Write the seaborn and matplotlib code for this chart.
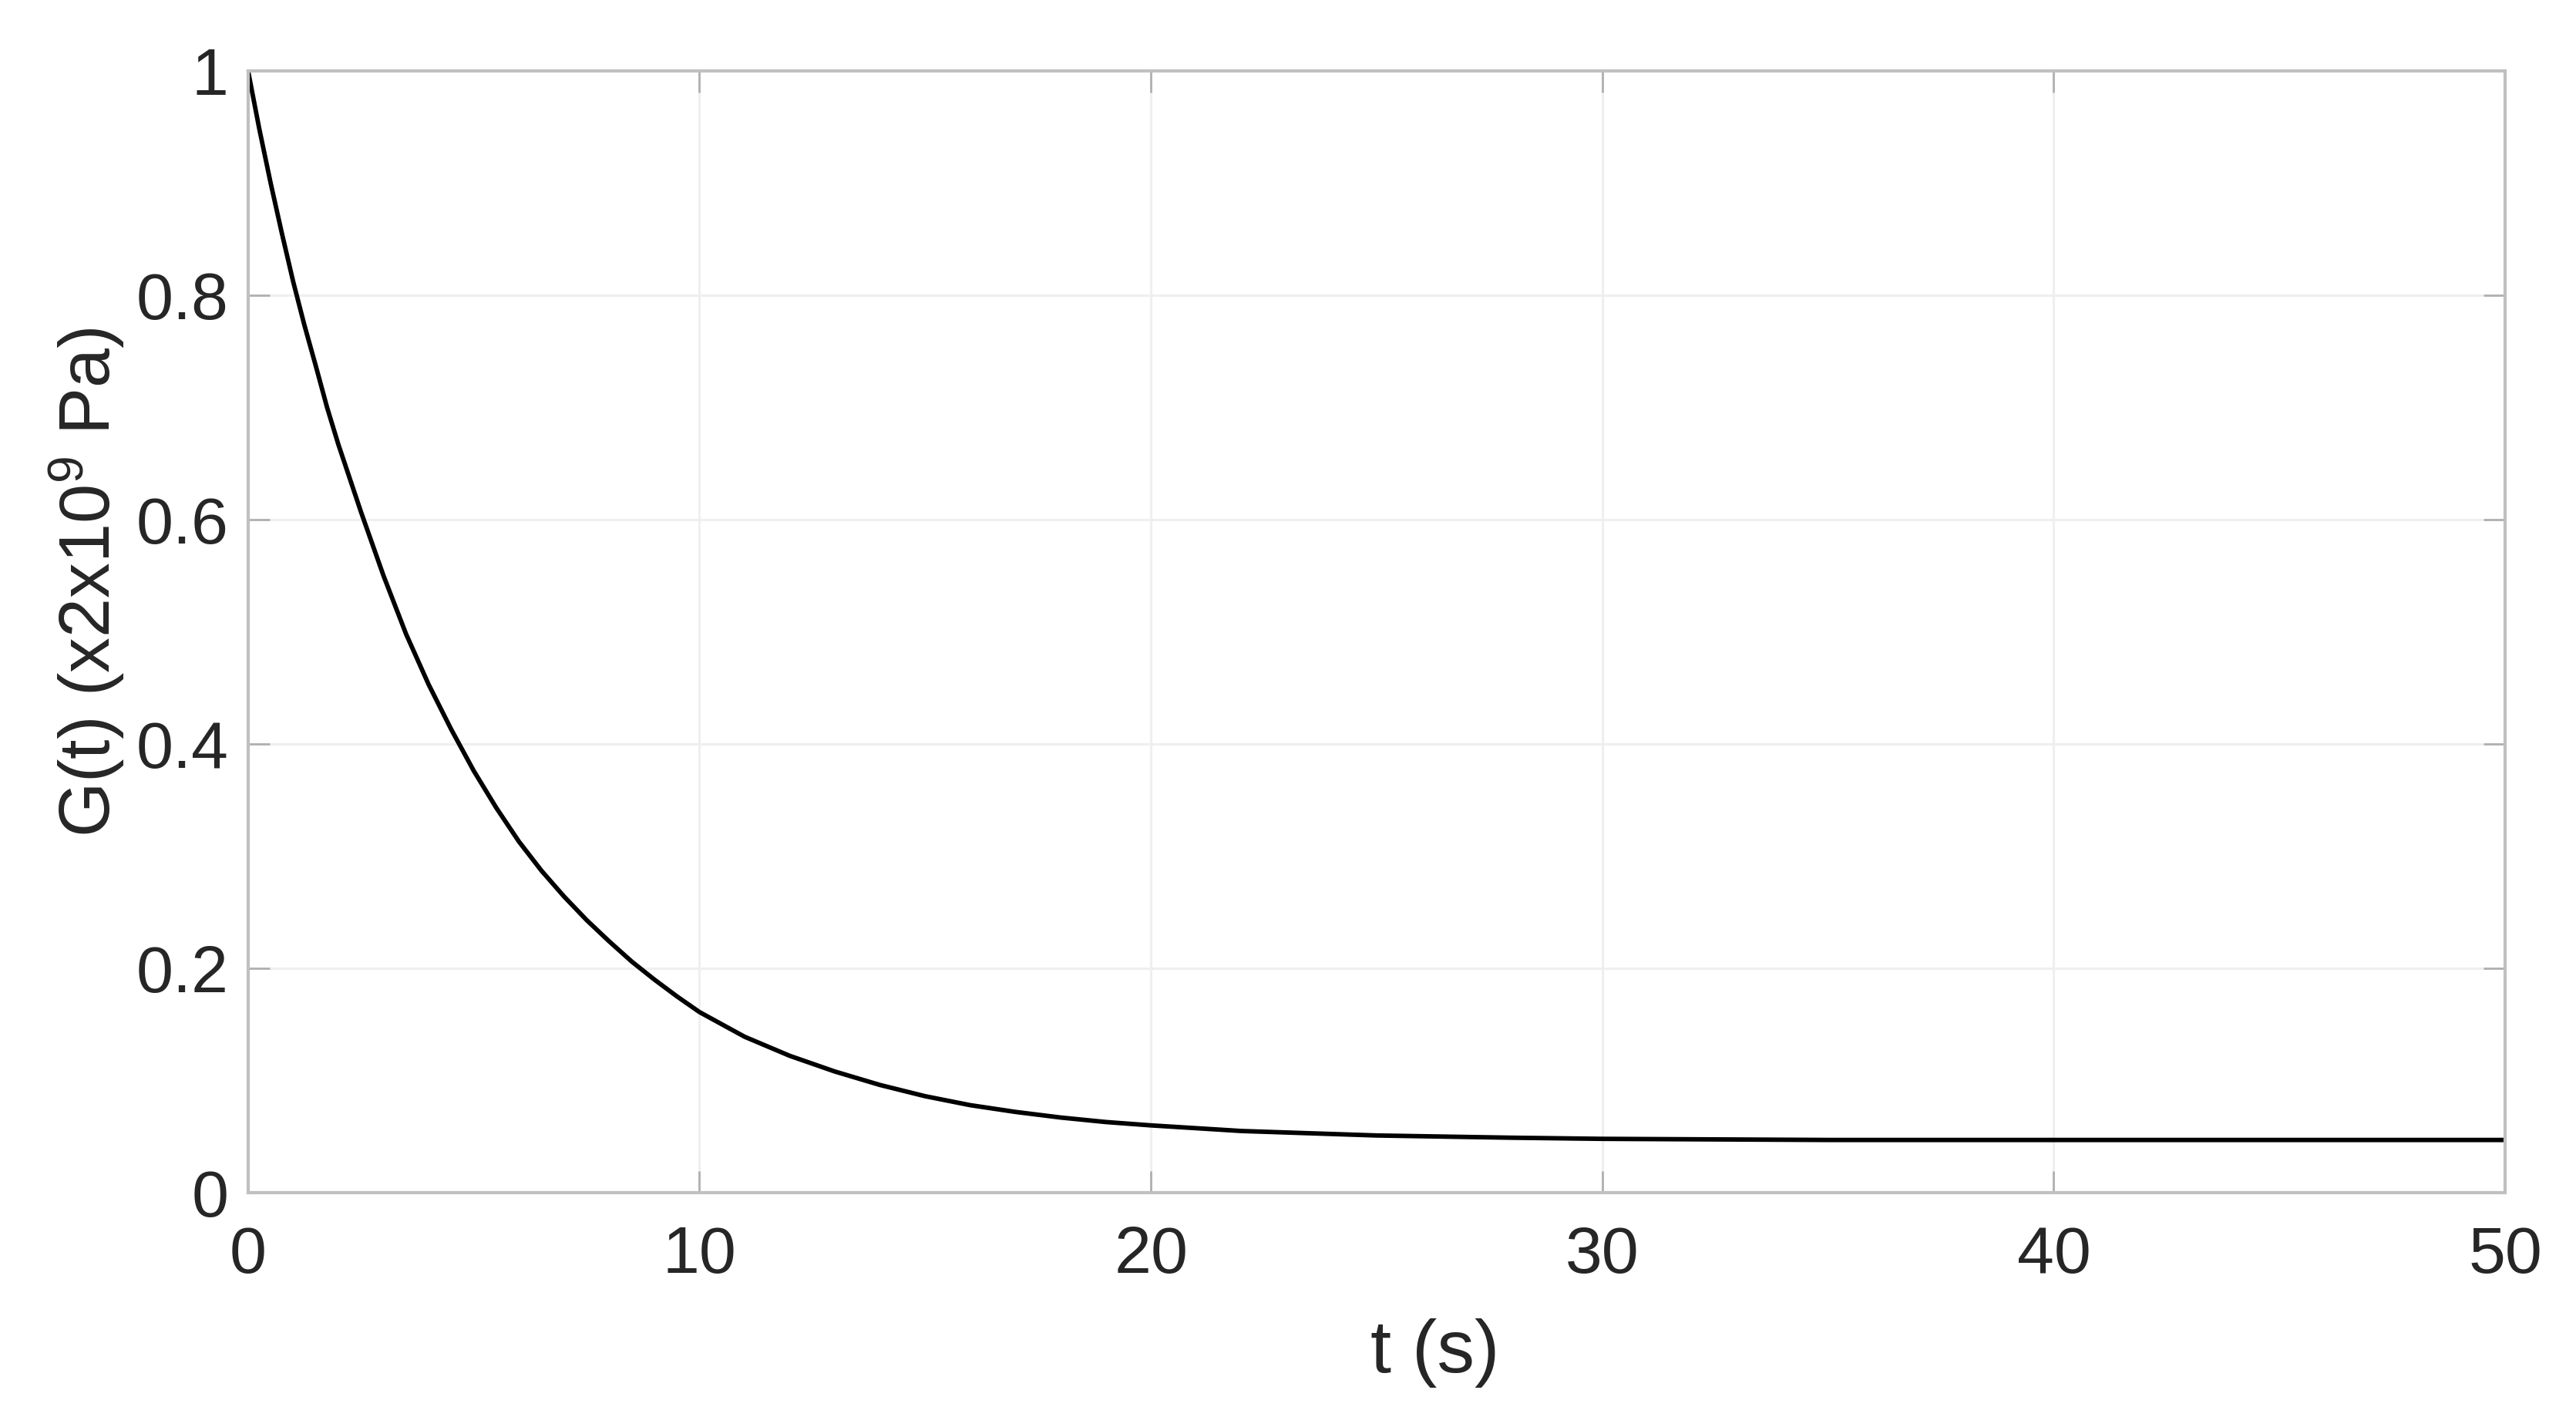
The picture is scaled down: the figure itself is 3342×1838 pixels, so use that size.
import seaborn as sns
import matplotlib.pyplot as plt
import pandas as pd

# values
t_vals = [0, 0.25, 0.5, 0.75, 1.0, 1.25, 1.5, 1.75, 2.0, 2.5, 3.0, 3.5, 4.0, 4.5, 5.0, 5.5,
          6.0, 6.5, 7.0, 7.5, 8.0, 8.5, 9.0, 9.5, 10, 11, 12, 13, 14, 15, 16, 17, 18, 19,
          20, 22, 25, 28, 30, 35, 40, 50]
g_vals = [1.0, 0.948, 0.900, 0.855, 0.812, 0.773, 0.737, 0.700, 0.667, 0.607, 0.550, 0.498,
          0.453, 0.413, 0.376, 0.343, 0.313, 0.287, 0.264, 0.243, 0.224, 0.206, 0.190, 0.175,
          0.161, 0.139, 0.122, 0.108, 0.096, 0.086, 0.078, 0.072, 0.067, 0.063,
          0.060, 0.055, 0.051, 0.049, 0.048, 0.047, 0.047, 0.047]
x_ticks = [0, 10, 20, 30, 40, 50]
y_ticks = [0, 0.2, 0.4, 0.6, 0.8, 1]
y_tick_labels = ["0", "0.2", "0.4", "0.6", "0.8", "1"]

df = pd.DataFrame({"t": t_vals, "G": g_vals})

sns.set_theme(style="whitegrid")
plt.rcParams["font.family"] = ["Liberation Sans", "DejaVu Sans"]
plt.rcParams["mathtext.default"] = "regular"

fig = plt.figure(figsize=(16.71, 9.19), dpi=200)
ax = fig.add_axes([0.0963, 0.1583, 0.8762, 0.7917])

sns.lineplot(data=df, x="t", y="G", color="black", linewidth=2.1, ax=ax)

ax.set_xlim(0, 50)
ax.set_ylim(0, 1)
ax.set_xticks(x_ticks)
ax.set_yticks(y_ticks)
ax.set_yticklabels(y_tick_labels)

ax.grid(True, color="#efefef", linewidth=1.1)
for s in ax.spines.values():
    s.set_color("#c0c0c0")
    s.set_linewidth(1.5)

ax.tick_params(axis="both", which="both", direction="in", length=10, width=1.0,
               color="#b0b0b0", labelsize=31, labelcolor="#262626",
               top=True, right=True, bottom=True, left=True)
ax.tick_params(axis="x", pad=15)
ax.tick_params(axis="y", pad=9)

ax.set_xlabel("t (s)", fontsize=35, color="#262626")
ax.set_ylabel("G(t) (x2x10$^{9}$ Pa)", fontsize=33, color="#262626")
ax.xaxis.set_label_coords(0.526, -0.112)
ax.yaxis.set_label_coords(-0.054, 0.544)

fig.savefig("out.png", dpi=200, facecolor="white")
